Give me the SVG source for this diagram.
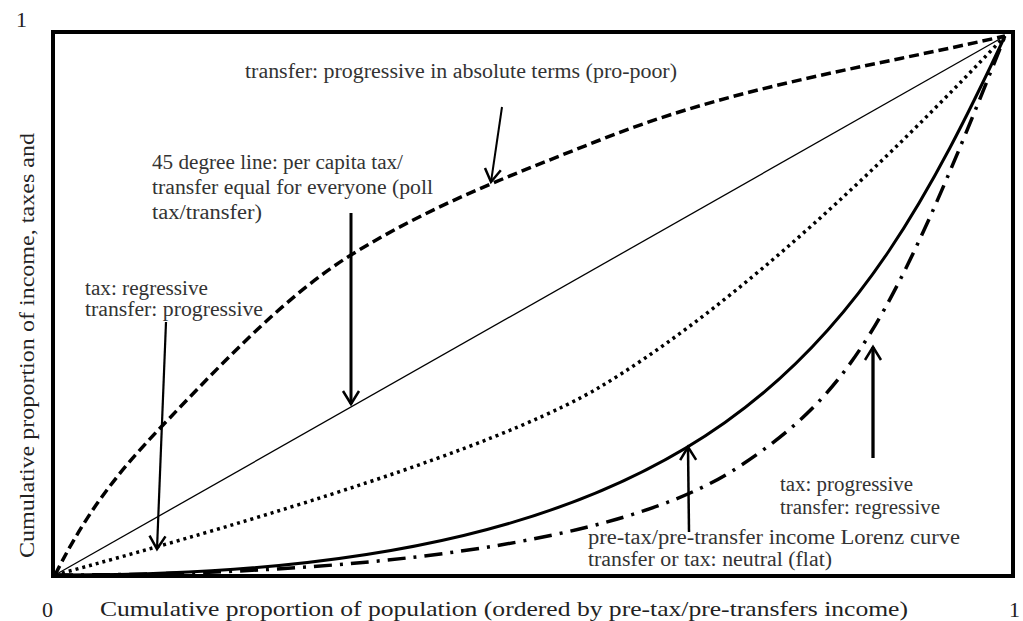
<svg xmlns="http://www.w3.org/2000/svg" width="1023" height="621" viewBox="0 0 1023 621">
<style>
.ax{font-family:'Liberation Serif','DejaVu Serif',serif;font-size:22px;fill:#222}
.ann{font-family:'Liberation Serif','DejaVu Serif',serif;font-size:20px;fill:#333}
.crv{fill:none;stroke:#000}
.arr{fill:none;stroke:#000;marker-end:url(#head)}
</style>
<defs>
<marker id="head" viewBox="0 0 16 18" refX="14" refY="9" markerWidth="16" markerHeight="18" markerUnits="userSpaceOnUse" orient="auto" overflow="visible">
<path d="M1,1 L14,9 L1,17" fill="none" stroke="#000" stroke-width="2.5" stroke-linejoin="miter"/>
</marker>
</defs>
<rect width="1023" height="621" fill="#fff"/>
<g id="frame">
<rect x="53" y="32" width="960" height="544" fill="none" stroke="#000" stroke-width="4"/>
</g>
<g id="axis-labels">
<text class="ax" x="16" y="27">1</text>
<text class="ax" x="42" y="617">0</text>
<text class="ax" x="1009" y="617">1</text>
<text class="ax" x="100" y="616" textLength="808" lengthAdjust="spacingAndGlyphs">Cumulative proportion of population (ordered by pre-tax/pre-transfers income)</text>
<text class="ax" transform="translate(34,558) rotate(-90)" textLength="425" lengthAdjust="spacingAndGlyphs">Cumulative proportion of income, taxes and</text>
</g>
<g id="curves">
<path id="pro-poor" class="crv" d="M55,575 C91,503 127,463 163,425 C226,359 288,294 351,255 C434,203.5 517,173 600,140 C735,86 870,67 1005,36" stroke-width="3.5" stroke-dasharray="10 5"/>
<path id="line45" class="crv" d="M55,575 L1005,36" stroke-width="1.3"/>
<path id="regressive-tax" class="crv" d="M55,575 C336,499 517,436 600,387 C713,319 848,202 1005,36" stroke-width="3.5" stroke-dasharray="3 4"/>
<path id="lorenz" class="crv" d="M55,575 C720,578 860,345 1005,36" stroke-width="3"/>
<path id="progressive-tax" class="crv" d="M55,575 C355,575 617,546 737,468 C850,394 890,327 1005,36" stroke-width="3.5" stroke-dasharray="18 8 3 8"/>
</g>
<g id="connectors">
<line class="arr" x1="502" y1="107" x2="491" y2="182" stroke-width="2"/>
<line class="arr" x1="351" y1="213" x2="351" y2="404" stroke-width="3"/>
<line class="arr" x1="166" y1="322" x2="157" y2="549" stroke-width="2.2"/>
<line class="arr" x1="689" y1="532" x2="688" y2="447" stroke-width="2.5"/>
<line class="arr" x1="873" y1="458" x2="873" y2="347" stroke-width="3.3"/>
</g>
<g id="label-pro-poor">
<text class="ann" x="245" y="78" textLength="432" lengthAdjust="spacingAndGlyphs">transfer: progressive in absolute terms (pro-poor)</text>
</g>
<g id="label-45">
<text class="ann" x="152" y="169" textLength="251" lengthAdjust="spacingAndGlyphs">45 degree line: per capita tax/</text>
<text class="ann" x="152" y="194" textLength="281" lengthAdjust="spacingAndGlyphs">transfer equal for everyone (poll</text>
<text class="ann" x="152" y="219" textLength="110" lengthAdjust="spacingAndGlyphs">tax/transfer)</text>
</g>
<g id="label-regressive">
<text class="ann" x="85" y="295" textLength="123" lengthAdjust="spacingAndGlyphs">tax: regressive</text>
<text class="ann" x="85" y="316" textLength="178" lengthAdjust="spacingAndGlyphs">transfer: progressive</text>
</g>
<g id="label-progressive">
<text class="ann" x="780" y="491" textLength="133" lengthAdjust="spacingAndGlyphs">tax: progressive</text>
<text class="ann" x="780" y="514" textLength="160" lengthAdjust="spacingAndGlyphs">transfer: regressive</text>
</g>
<g id="label-lorenz">
<text class="ann" x="588" y="544" textLength="372" lengthAdjust="spacingAndGlyphs">pre-tax/pre-transfer income Lorenz curve</text>
<text class="ann" x="588" y="566" textLength="244" lengthAdjust="spacingAndGlyphs">transfer or tax: neutral (flat)</text>
</g>
</svg>
